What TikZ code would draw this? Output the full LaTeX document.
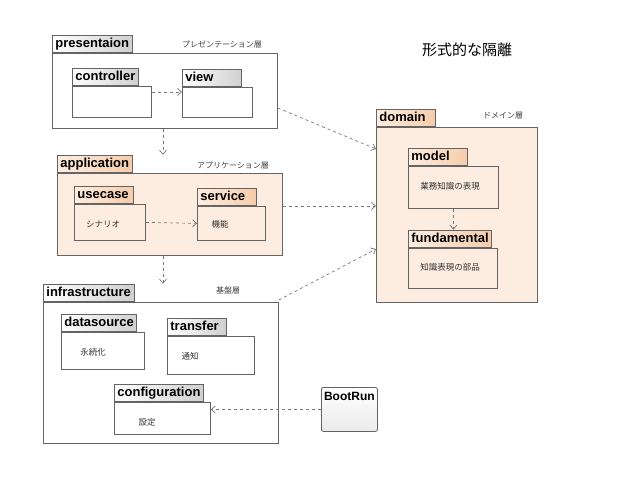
\documentclass[tikz,border=0pt]{standalone}
\usepackage{fontspec}
\setmainfont{Liberation Sans}
\newfontfamily\jafont{Noto Sans CJK JP}
\usetikzlibrary{arrows.meta,positioning}
\definecolor{pkgline}{RGB}{100,100,100}
\definecolor{peachbody}{RGB}{253,237,224}
\definecolor{peachtab}{RGB}{246,204,170}
\definecolor{graytab}{RGB}{208,208,208}
\definecolor{deplink}{RGB}{120,120,120}

\tikzset{
    pkgbody/.style={draw=pkgline, line width=0.8pt, fill=white, anchor=north west, inner sep=0pt},
    peachbody/.style={pkgbody, fill=peachbody},
    widetab/.style={draw=pkgline, line width=0.8pt, anchor=south west, left color=white, right color=graytab,
        font=\bfseries\fontsize{13}{13}\selectfont, inner xsep=3pt, inner ysep=2.5pt,
        text height=9.5pt, text depth=3pt},
    narrowtab/.style={widetab, text width=53pt, align=left},
    peachwide/.style={widetab, left color=peachbody, right color=peachtab},
    peachnarrow/.style={narrowtab, left color=peachbody, right color=peachtab},
    layernote/.style={font=\jafont\fontsize{8}{8}\selectfont, text=black!75},
    pkgnote/.style={font=\jafont\fontsize{8.5}{8.5}\selectfont, text=black!80},
    bootbox/.style={draw=pkgline, line width=0.8pt, rounded corners=2pt, top color=white, bottom color=black!8,
        anchor=north west, minimum width=56pt, inner xsep=1pt, inner ysep=4pt,
        text height=9pt, text depth=27pt, font=\bfseries\fontsize{12}{12}\selectfont},
    dep/.style={draw=deplink, dashed, line width=0.7pt, -{Straight Barb[length=4pt,width=7pt]}},
}

\begin{document}
\begin{tikzpicture}[x=1pt,y=-1pt]
    \useasboundingbox (0,0) rectangle (638,479);

    % title
    \node[font=\jafont\fontsize{15}{15}\selectfont] (title) at (467,50) {形式的な隔離};

    % presentation layer
    \node[pkgbody, minimum width=225pt, minimum height=75pt] (pres) at (52,53) {};
    \node[widetab] (prestab) at (pres.north west) {presentaion};
    \node[layernote] (preslayer) at (222,44) {プレゼンテーション層};
    \node[pkgbody, minimum width=79pt, minimum height=31pt] (ctrl) at (72,86) {};
    \node[widetab] (ctrltab) at (ctrl.north west) {controller};
    \node[pkgbody, minimum width=70pt, minimum height=30pt] (view) at (182,87) {};
    \node[narrowtab] (viewtab) at (view.north west) {view};

    % application layer
    \node[peachbody, minimum width=225pt, minimum height=82pt] (app) at (57,173) {};
    \node[peachwide] (apptab) at (app.north west) {application};
    \node[layernote] (applayer) at (233,165) {アプリケーション層};
    \node[peachbody, minimum width=71pt, minimum height=36pt] (usecase) at (74,204) {};
    \node[peachnarrow] (usecasetab) at (usecase.north west) {usecase};
    \node[pkgnote] (usecasenote) at (103,224) {シナリオ};
    \node[peachbody, minimum width=68pt, minimum height=34pt] (service) at (197,206) {};
    \node[peachnarrow] (servicetab) at (service.north west) {service};
    \node[pkgnote] (servicenote) at (220,224) {機能};

    % infrastructure layer
    \node[pkgbody, minimum width=235pt, minimum height=141pt] (infra) at (43,302) {};
    \node[widetab] (infratab) at (infra.north west) {infrastructure};
    \node[layernote] (infralayer) at (228,290) {基盤層};
    \node[pkgbody, minimum width=83pt, minimum height=37pt] (dsrc) at (61,332) {};
    \node[widetab] (dsrctab) at (dsrc.north west) {datasource};
    \node[pkgnote] (dsrcnote) at (93,352) {永続化};
    \node[pkgbody, minimum width=87pt, minimum height=38pt] (transfer) at (167,336) {};
    \node[narrowtab] (transfertab) at (transfer.north west) {transfer};
    \node[pkgnote] (transfernote) at (190,356) {通知};
    \node[pkgbody, minimum width=96pt, minimum height=32pt] (config) at (114,402) {};
    \node[widetab] (configtab) at (config.north west) {configuration};
    \node[pkgnote] (confignote) at (147,422) {設定};

    % domain layer
    \node[peachbody, minimum width=161pt, minimum height=175pt] (dom) at (376,127) {};
    \node[peachnarrow] (domtab) at (dom.north west) {domain};
    \node[layernote] (domlayer) at (503,116) {ドメイン層};
    \node[peachbody, minimum width=90pt, minimum height=42pt] (model) at (408,166) {};
    \node[peachnarrow] (modeltab) at (model.north west) {model};
    \node[pkgnote] (modelnote) at (450,186) {業務知識の表現};
    \node[peachbody, minimum width=89pt, minimum height=40pt] (fund) at (408,248) {};
    \node[peachwide] (fundtab) at (fund.north west) {fundamental};
    \node[pkgnote] (fundnote) at (450,267) {知識表現の部品};

    % main class
    \node[bootbox] (boot) at (321,387) {BootRun};

    % dependencies
    \draw[dep] ([yshift=-6pt]ctrl.north east) -- ([yshift=-5pt]view.north west);
    \draw[dep] (usecase.east) -- (service.west);
    \draw[dep] (model.south) -- (model.south |- fundtab.north);

    \coordinate (presdown) at ([xshift=111pt]pres.south west);
    \draw[dep] (presdown) -- (presdown |- apptab.north);
    \coordinate (appdown) at ([xshift=106pt]app.south west);
    \draw[dep] (appdown) -- (appdown |- infratab.north);

    \draw[dep] ([yshift=-55pt]pres.north east) -- ([yshift=-22pt]dom.north west);
    \coordinate (appright) at ([yshift=-33pt]app.north east);
    \draw[dep] (appright) -- (appright -| dom.west);
    \draw[dep] ([yshift=2pt]infra.north east) -- ([yshift=-122pt]dom.north west);

    \draw[dep] (boot.west) -- (boot.west -| config.east);
\end{tikzpicture}
\end{document}
